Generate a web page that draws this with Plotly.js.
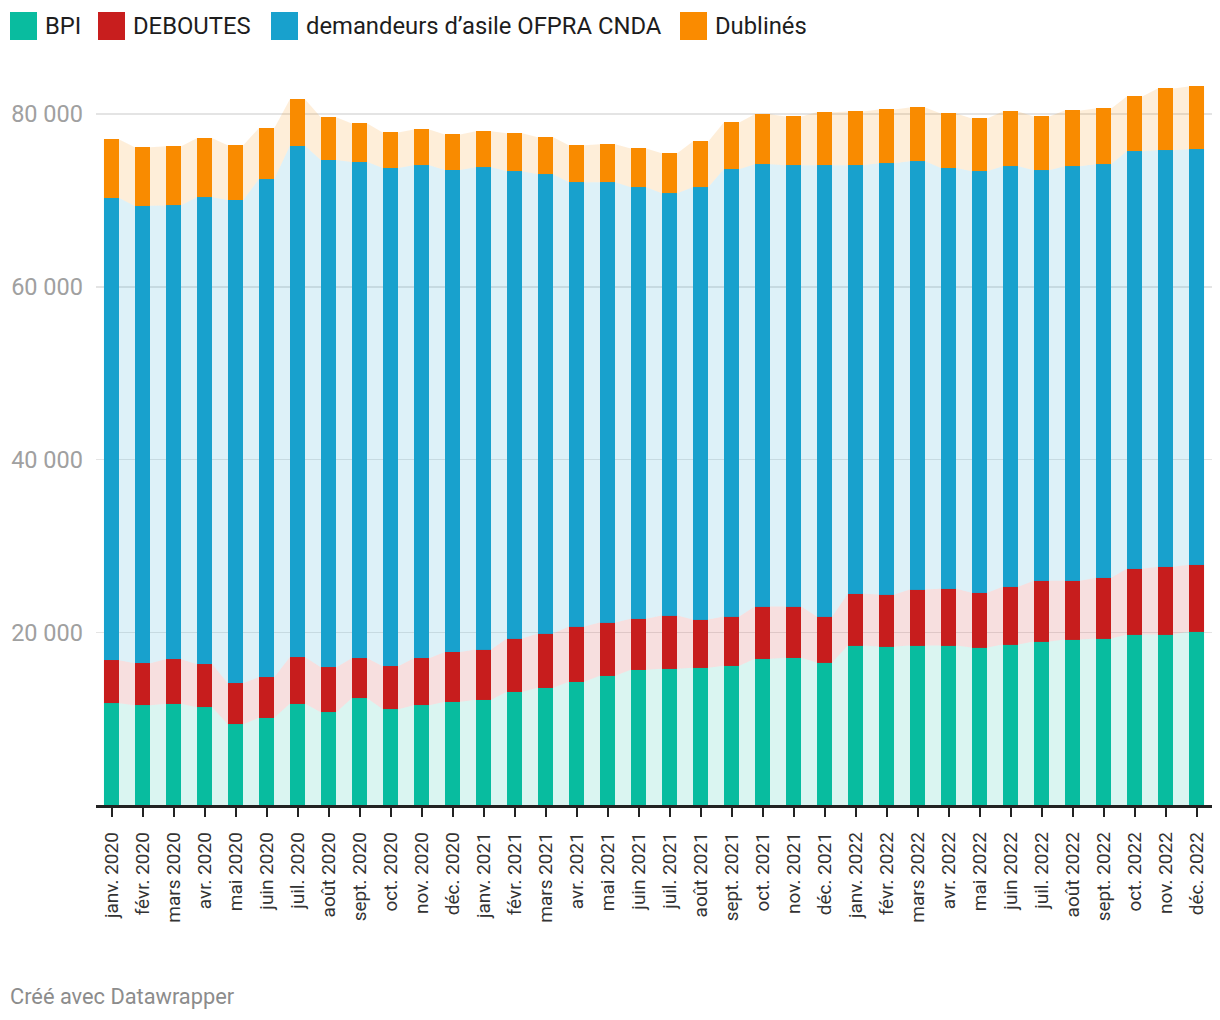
<!DOCTYPE html>
<html>
<head>
<meta charset="utf-8">
<script src="https://cdn.plot.ly/plotly-3.0.1.min.js"></script>
<style>
html,body{margin:0;padding:0;background:#fff;}
#chart{width:1220px;height:1020px;}
</style>
</head>
<body>
<div id="chart"></div>
<script>
const months = ['janv. 2020','févr. 2020','mars 2020','avr. 2020','mai 2020','juin 2020','juil. 2020','août 2020','sept. 2020','oct. 2020','nov. 2020','déc. 2020',
'janv. 2021','févr. 2021','mars 2021','avr. 2021','mai 2021','juin 2021','juil. 2021','août 2021','sept. 2021','oct. 2021','nov. 2021','déc. 2021',
'janv. 2022','févr. 2022','mars 2022','avr. 2022','mai 2022','juin 2022','juil. 2022','août 2022','sept. 2022','oct. 2022','nov. 2022','déc. 2022'];

const bpi = [11790,11560,11720,11330,9360,10100,11720,10750,12370,11100,11560,11950,
12200,13120,13580,14280,14970,15660,15780,15900,16130,16940,17050,16490,
18460,18350,18460,18460,18230,18580,18920,19160,19270,19730,19730,20080];

const deboutes = [4970,4860,5160,4970,4740,4700,5390,5200,4620,4970,5430,5780,
5800,6150,6270,6380,6150,5920,6150,5570,5690,6030,5920,5330,
6010,6010,6480,6590,6360,6700,7060,6820,7050,7630,7870,7750];

const ofpra = [53530,52940,52560,54070,55960,57650,59190,58730,57460,57690,57080,55800,
55840,54100,53180,51440,50980,49950,48900,50060,51790,51210,51100,52250,
49600,49940,49590,48710,48780,48670,47510,47970,47860,48330,48200,48090];

const dublines = [6780,6790,6830,6820,6320,5900,5400,4940,4470,4120,4160,4120,
4160,4400,4280,4280,4400,4500,4630,5310,5430,5790,5660,6130,
6240,6240,6240,6320,6130,6360,6240,6480,6480,6360,7170,7280];

const seriesNames = ['BPI','DEBOUTES','demandeurs d\u2019asile OFPRA CNDA','Dublinés'];
const seriesColors = ['#09bc9f','#c81e1e','#18a1cd','#fa8b00'];
const fillColors = ['rgba(9,188,159,0.15)','rgba(200,30,30,0.14)','rgba(24,161,205,0.15)','rgba(250,139,0,0.15)'];
const yTickVals = [20000,40000,60000,80000];
const yTickText = ['20 000','40 000','60 000','80 000'];

const allSeries = [bpi, deboutes, ofpra, dublines];
const idx = months.map((m,i)=>i);
const halfW = 0.25;

const traces = [];
// connecting areas
allSeries.forEach((vals, s) => {
  const ax = [], ay = [];
  vals.forEach((v,i)=>{ ax.push(i-halfW, i+halfW); ay.push(v, v); });
  traces.push({
    type:'scatter', mode:'lines', x:ax, y:ay, stackgroup:'area',
    line:{width:0, color:fillColors[s]}, fillcolor:fillColors[s],
    hoverinfo:'skip', showlegend:false
  });
});
// bars
allSeries.forEach((vals, s) => {
  traces.push({
    type:'bar', x:idx, y:vals, name:seriesNames[s], width:0.5,
    marker:{color:seriesColors[s], line:{width:0}}, showlegend:false
  });
});

// pixel -> paper helpers for legend / footer placement
const L = 96, R = 8, T = 45, B = 215, W = 1220, H = 1020;
const pw = W - L - R, ph = H - T - B;
const px = x => (x - L) / pw;
const py = y => (H - B - y) / ph;

const shapes = [], annotations = [];
const legendX = [10, 98, 271, 680];
legendX.forEach((x0, s) => {
  shapes.push({type:'rect', xref:'paper', yref:'paper', x0:px(x0), x1:px(x0+27), y0:py(40), y1:py(12),
    fillcolor:seriesColors[s], line:{width:0}});
  annotations.push({xref:'paper', yref:'paper', x:px(x0+33), y:py(26), xanchor:'left', yanchor:'middle',
    text:seriesNames[s], showarrow:false, font:{family:'Roboto', size:23.8, color:'#1d1d1d'}});
});
annotations.push({xref:'paper', yref:'paper', x:px(8), y:py(997), xanchor:'left', yanchor:'middle',
  text:'Créé avec Datawrapper', showarrow:false, font:{family:'Roboto', size:21.8, color:'#8c8c8c'}});

const layout = {
  width:W, height:H,
  margin:{l:L, r:R, t:T, b:B},
  paper_bgcolor:'#fff', plot_bgcolor:'#fff',
  barmode:'stack', showlegend:false,
  font:{family:'Roboto', color:'#333'},
  xaxis:{
    type:'linear', range:[-0.5, 35.5], tickvals:idx, ticktext:months, tickangle:-90,
    ticks:'outside', ticklen:9, tickwidth:2, tickcolor:'#222',
    showline:true, linecolor:'#222', linewidth:2.5, showgrid:false, zeroline:false,
    ticklabelstandoff:8,
    tickfont:{family:'Roboto', size:19, color:'#333'}, fixedrange:true
  },
  yaxis:{
    range:[0, 88000], tickvals:yTickVals, ticktext:yTickText,
    showgrid:true, gridcolor:'#e4e4e4', gridwidth:1.5, zeroline:false, showline:false,
    ticks:'', ticklabelstandoff:12,
    tickfont:{family:'Roboto', size:23.5, color:'#a0a0a0'}, fixedrange:true
  },
  shapes:shapes, annotations:annotations
};

Plotly.newPlot('chart', traces, layout, {displayModeBar:false, staticPlot:true});
</script>
</body>
</html>
